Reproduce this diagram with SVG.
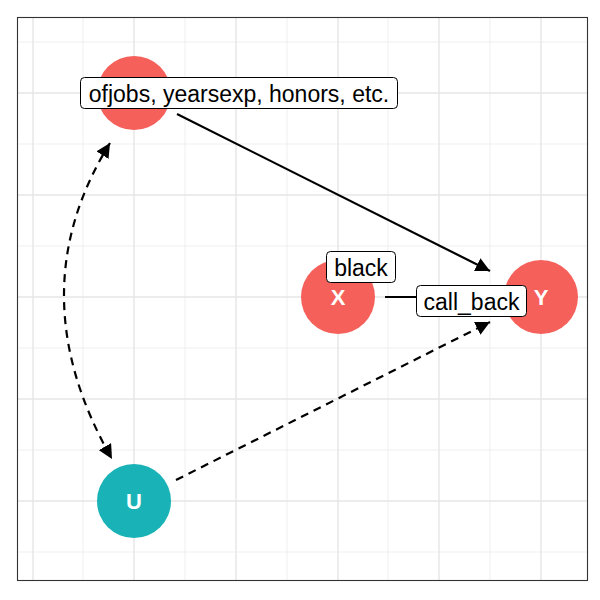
<svg xmlns="http://www.w3.org/2000/svg" width="600" height="600" viewBox="0 0 600 600">
<style>
.maj{stroke:#e6e6e6;stroke-width:1.4;fill:none}
.min{stroke:#ebebeb;stroke-width:0.8;fill:none}
.edge{stroke:#000;stroke-width:2.2;fill:none}
.dash{stroke-dasharray:8 6}
.nodeR{fill:#F5605B}
.nodeT{fill:#19B3B7}
.nl{font-family:"Liberation Sans",Arial,sans-serif;font-weight:bold;font-size:22px;fill:#fff;text-anchor:middle}
.lb{fill:#fff;stroke:#000;stroke-width:1}
.lt{font-family:"Liberation Sans",Arial,sans-serif;font-size:23px;fill:#000;text-anchor:middle}
</style>
<defs>
<marker id="ah" viewBox="0 0 10 10" refX="10" refY="5" markerWidth="6.5" markerHeight="6.5" markerUnits="strokeWidth" orient="auto-start-reverse">
<path d="M0,0 L10,5 L0,10 z" fill="#000"/>
</marker>
</defs>
<rect x="0" y="0" width="600" height="600" fill="#fff"/>
<g id="grid">
<path class="min" d="M83,17V581M185,17V581M287,17V581M388,17V581M490,17V581M17,42H588M17,144H588M17,246H588M17,348H588M17,450H588M17,552H588"/>
<path class="maj" d="M33,17V581M134,17V581M236,17V581M338,17V581M439,17V581M541,17V581M17,93H588M17,195H588M17,297H588M17,399H588M17,501H588"/>
</g>
<g id="connectors">
<path class="edge" d="M177,114 L490,271" marker-end="url(#ah)"/>
<path class="edge" d="M385,297 L490,297" marker-end="url(#ah)"/>
<path class="edge dash" d="M176,480 L490,322" marker-end="url(#ah)"/>
<path class="edge dash" d="M110,143 Q17,293 112,459" marker-start="url(#ah)" marker-end="url(#ah)"/>
</g>
<g id="node-top">
<circle class="nodeR" cx="134" cy="93" r="37"/>
</g>
<g id="node-X">
<circle class="nodeR" cx="338" cy="297" r="37"/>
<text class="nl" x="338" y="305">X</text>
</g>
<g id="node-Y">
<circle class="nodeR" cx="541" cy="297" r="37"/>
<text class="nl" x="541" y="305">Y</text>
</g>
<g id="node-U">
<circle class="nodeT" cx="134" cy="501" r="37"/>
<text class="nl" x="134" y="509">U</text>
</g>
<g id="labels">
<rect class="lb" x="80.5" y="77.5" width="317" height="31" rx="4"/>
<text class="lt" x="239" y="101.5">ofjobs, yearsexp, honors, etc.</text>
<rect class="lb" x="326.5" y="251.5" width="69" height="31" rx="4"/>
<text class="lt" x="361" y="275.5">black</text>
<rect class="lb" x="416.5" y="285.5" width="110" height="31" rx="4"/>
<text class="lt" x="471.5" y="309.5">call_back</text>
</g>
<rect x="17.5" y="17.5" width="570" height="563" fill="none" stroke="#333" stroke-width="1.1"/>
</svg>
